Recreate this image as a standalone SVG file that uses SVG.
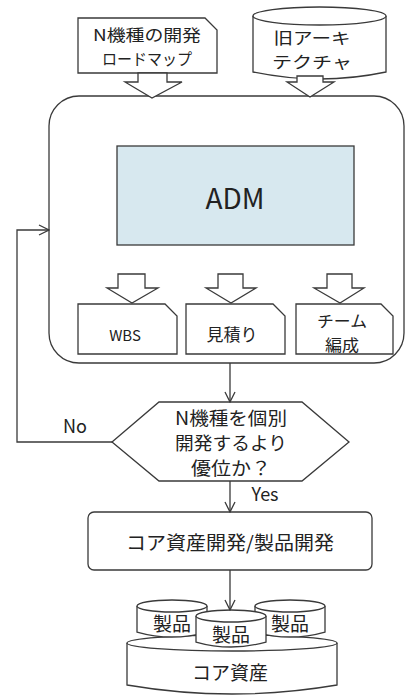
<svg xmlns="http://www.w3.org/2000/svg" width="406" height="697" viewBox="0 0 406 697">
<style>
.s{fill:#fff;stroke:#3a3a3a;stroke-width:1.3}
.l{fill:none;stroke:#3a3a3a;stroke-width:1.3}
.t{font-family:"Noto Sans CJK JP","Noto Sans",sans-serif;fill:#222;text-anchor:middle;dominant-baseline:central}
</style>
<defs>
<marker id="v" viewBox="0 0 12 12" refX="11" refY="6" markerWidth="12" markerHeight="12" markerUnits="userSpaceOnUse" orient="auto">
<path d="M1,1 L11,6 L1,11" fill="none" stroke="#3a3a3a" stroke-width="1.3"/>
</marker>
</defs>
<g id="main">
<rect class="s" x="49" y="96" width="355" height="267" rx="30"/>
</g>
<g id="roadmap">
<path class="s" d="M78,18 H205 L217,30 V73 H78 Z"/>
<text class="t" x="147" y="34" font-size="16" textLength="108" lengthAdjust="spacingAndGlyphs">N機種の開発</text>
<text class="t" x="147" y="58" font-size="16" textLength="90" lengthAdjust="spacingAndGlyphs">ロードマップ</text>
</g>
<g id="oldarch">
<path class="s" d="M253,16 V72 Q320,86 386,72 V16"/>
<ellipse class="s" cx="319.5" cy="16" rx="66.5" ry="9"/>
<text class="t" x="312" y="37" font-size="16" textLength="77" lengthAdjust="spacingAndGlyphs">旧アーキ</text>
<text class="t" x="312" y="61" font-size="16" textLength="80" lengthAdjust="spacingAndGlyphs">テクチャ</text>
</g>
<g id="adm">
<rect x="117" y="146" width="237" height="99" fill="#d7e8ef" stroke="#3a3a3a" stroke-width="1.3"/>
<text class="t" x="235" y="197" font-size="28" font-family="Open Sans">ADM</text>
</g>
<g id="wbs">
<path class="s" d="M78,304 H165 L177,316 V354 H78 Z"/>
<text class="t" x="125" y="334" font-size="15">WBS</text>
</g>
<g id="estimate">
<path class="s" d="M186,304 H273 L285,316 V354 H186 Z"/>
<text class="t" x="232" y="333" font-size="17">見積り</text>
</g>
<g id="team">
<path class="s" d="M296,304 H381 L393,316 V354 H296 Z"/>
<text class="t" x="342" y="320" font-size="16" textLength="50" lengthAdjust="spacingAndGlyphs">チーム</text>
<text class="t" x="342" y="344" font-size="16" textLength="34" lengthAdjust="spacingAndGlyphs">編成</text>
</g>
<g id="decision">
<path class="s" d="M112,442 L159,402 H302 L349,442 L302,481 H159 Z"/>
<text class="t" x="231" y="417" font-size="18" textLength="112" lengthAdjust="spacingAndGlyphs">N機種を個別</text>
<text class="t" x="231" y="442" font-size="18" textLength="112" lengthAdjust="spacingAndGlyphs">開発するより</text>
<text class="t" x="231" y="467" font-size="18" textLength="80" lengthAdjust="spacingAndGlyphs">優位か？</text>
</g>
<g id="develop">
<rect class="s" x="88" y="512" width="284" height="58" rx="6"/>
<text class="t" x="230" y="541" font-size="19" textLength="208" lengthAdjust="spacingAndGlyphs">コア資産開発/製品開発</text>
</g>
<g id="coreasset">
<path class="s" d="M127,643 V685 Q232,703 337,685 V643"/>
<ellipse class="s" cx="232" cy="643" rx="105" ry="8"/>
<text class="t" x="230" y="671" font-size="19">コア資産</text>
</g>
<g id="product1">
<path class="s" d="M137,606 V632 Q172,642 207,632 V606"/>
<ellipse class="s" cx="172" cy="606" rx="35" ry="6"/>
<text class="t" x="172" y="622" font-size="19">製品</text>
</g>
<g id="product3">
<path class="s" d="M255,606 V632 Q290,642 325,632 V606"/>
<ellipse class="s" cx="290" cy="606" rx="35" ry="6"/>
<text class="t" x="290" y="622" font-size="19">製品</text>
</g>
<g id="product2">
<path class="s" d="M196,616 V642 Q231,652 266,642 V616"/>
<ellipse class="s" cx="231" cy="616" rx="35" ry="6"/>
<text class="t" x="231" y="633" font-size="19">製品</text>
</g>
<g id="connectors">
<polygon class="s" points="138,73 167,73 167,82 182,82 152,98 125,82 138,82"/>
<polygon class="s" points="297,76 323,76 323,82 334,82 310,97 287,82 297,82"/>
<polygon class="s" points="118,274 145,274 145,288 158,288 132,303 107,288 118,288"/>
<polygon class="s" points="218,274 243,274 243,288 256,288 231,303 206,288 218,288"/>
<polygon class="s" points="327,274 352,274 352,288 364,288 340,303 314,288 327,288"/>
<path class="l" d="M230,363 V402" marker-end="url(#v)"/>
<path class="l" d="M112,442 H17 V230 H49" marker-end="url(#v)"/>
<path class="l" d="M230,481 V512" marker-end="url(#v)"/>
<path class="l" d="M230,570 V610" marker-end="url(#v)"/>
<text class="t" x="75" y="425" font-size="18" font-family="Open Sans">No</text>
<text class="t" x="265" y="493" font-size="18" font-family="Open Sans">Yes</text>
</g>
</svg>
